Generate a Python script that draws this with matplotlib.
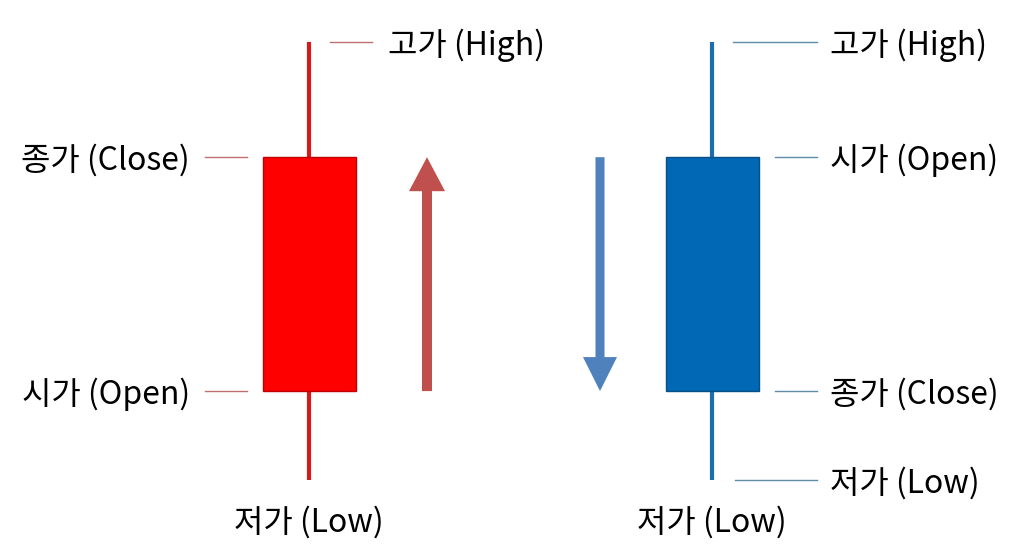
import matplotlib
matplotlib.use("Agg")
import matplotlib.pyplot as plt

plt.rcParams['font.family'] = ['Noto Sans CJK KR', 'DejaVu Sans']

# ---- data ----
candles = ["상승", "하락"]
opens = [20.3, 73.7]
closes = [73.7, 20.3]
highs = [100.0, 100.0]
lows = [0.0, 0.0]
label_high = "고가 (High)"
label_low = "저가 (Low)"
label_open = "시가 (Open)"
label_close = "종가 (Close)"

# ---- styles ----
body_colors = ["#ff0000", "#0068b4"]
edge_colors = ["#c00000", "#0a4f86"]
wick_colors = ["#d51a1a", "#1c6db0"]
guide_colors = ["#c07070", "#5f8aa8"]
arrow_colors = ["#c0504d", "#4f81bd"]

W, H = 1024, 559
PX = 403.0   # pixels per x unit
PY = 4.38    # pixels per price unit
fig = plt.figure(figsize=(W / 100, H / 100), dpi=100)
ax = fig.add_axes([0, 0, 1, 1])
ax.set_xlim(-309 / PX, (W - 309) / PX)
ax.set_ylim((480 - H) / PY, 480 / PY)
ax.axis('off')

xs = list(range(len(candles)))
fs = 23
fw = 'medium'
dy = -3 / PY  # text sits slightly below the guide line

for i in xs:
    o, c, h, l = opens[i], closes[i], highs[i], lows[i]
    ax.vlines(i, l, h, color=wick_colors[i], lw=3.0, zorder=1)
    ax.bar(i, abs(c - o), bottom=min(o, c), width=93 / PX,
           color=body_colors[i], edgecolor=edge_colors[i], lw=1.0, zorder=2)
    # bottom label
    ax.text(i, l - 42 / PY, label_low, ha='center', va='center',
            fontsize=fs, fontweight=fw)

# bullish candle (0): left side close/open, right side high
i = 0
for val, lab in [(closes[i], label_close), (opens[i], label_open)]:
    ax.plot([i - 104 / PX, i - 62 / PX], [val, val], color=guide_colors[i], lw=1.0)
    ax.text(i - 119 / PX, val + dy, lab, ha='right', va='center',
            fontsize=fs, fontweight=fw)
ax.plot([i + 21 / PX, i + 63 / PX], [highs[i], highs[i]], color=guide_colors[i], lw=1.0)
ax.text(i + 79 / PX, highs[i] + dy, label_high, ha='left', va='center',
        fontsize=fs, fontweight=fw)

# bearish candle (1): right side labels
i = 1
for val, lab, x0 in [(highs[i], label_high, 21), (opens[i], label_open, 63),
                     (closes[i], label_close, 63), (lows[i], label_low, 23)]:
    ax.plot([i + x0 / PX, i + 105 / PX], [val, val], color=guide_colors[i], lw=1.0)
    ax.text(i + 118 / PX, val + dy, lab, ha='left', va='center',
            fontsize=fs, fontweight=fw)

# direction arrows
ax.arrow(0 + 118 / PX, opens[0], 0, closes[0] - opens[0], width=10 / PX,
         head_width=36 / PX, head_length=34 / PY, length_includes_head=True,
         color=arrow_colors[0], lw=0)
ax.arrow(1 - 112 / PX, opens[1], 0, closes[1] - opens[1], width=9 / PX,
         head_width=34 / PX, head_length=34 / PY, length_includes_head=True,
         color=arrow_colors[1], lw=0)

fig.savefig("out.png", dpi=100, facecolor="white")
